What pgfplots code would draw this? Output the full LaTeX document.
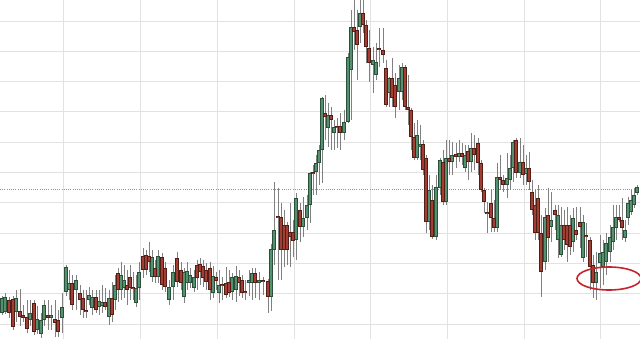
\documentclass[border=0pt]{standalone}
\usepackage{pgfplots}
\usepackage{pgfplotstable}
\pgfplotsset{compat=1.18}
\definecolor{gfill}{HTML}{55906F}
\definecolor{gline}{HTML}{2A4F3A}
\definecolor{rfill}{HTML}{A23E32}
\definecolor{rline}{HTML}{521D16}
\definecolor{wick}{HTML}{808080}
\definecolor{gridc}{HTML}{E2E2E2}
\definecolor{ell}{HTML}{C4242B}

\pgfplotstableread{
x top bot hi lo
2 298 313 296 315
5 297 312 293 314
16 298 312 290 322
30 313 320 300 326
37 319 330 306 334
41 320 334 313 338
44 305 320 300 326
51 315 318 305 330
62 307 318 293 333
66 267 292 265 296
69 283 290 270 300
76 280 290 275 310
89 295 300 287 305
92 297 308 290 315
99 301 307 290 315
102 302 306 285 313
109 298 317 290 325
115 285 300 275 310
121 275 290 262 300
124 280 288 265 298
136 288 303 275 307
139 272 288 262 300
152 257 277 250 282
158 256 277 250 283
169 287 300 280 305
173 272 287 265 300
184 272 297 268 303
187 271 283 262 290
190 275 283 268 288
194 277 288 270 292
213 276 293 266 298
219 285 293 270 303
232 277 292 273 300
236 276 290 266 302
249 280 283 270 296
252 273 283 268 300
259 280 283 272 300
271 249 297 244 311
274 230 250 182 265
296 198 240 193 260
303 218 227 197 237
307 205 218 195 230
310 173 205 172 223
316 163 172 155 195
319 150 163 145 185
322 98 150 97 183
328 115 128 103 147
334 127 133 120 150
344 122 133 110 140
348 57 122 53 123
351 27 70 10 120
360 13 27 0 43
373 60 65 47 93
376 62 75 43 80
389 78 93 77 107
399 78 92 65 110
402 67 92 63 100
417 135 158 120 160
420 144 147 125 160
429 190 222 175 230
436 187 237 175 240
440 160 188 158 195
446 158 202 140 205
452 155 162 142 175
459 153 157 140 162
465 155 168 145 172
471 148 162 133 172
497 177 228 163 232
507 178 185 153 198
510 168 180 155 190
513 142 168 140 182
520 162 173 138 178
526 168 174 155 185
545 217 262 208 270
551 220 227 192 242
558 215 240 205 258
561 225 255 207 257
573 218 242 208 252
583 222 258 215 262
596 272 283 252 300
600 253 263 235 288
603 252 267 240 285
606 243 262 233 275
610 237 252 225 262
613 227 242 205 250
616 217 228 205 240
625 230 238 220 242
628 203 218 197 225
631 200 212 190 215
634 195 205 188 208
637 187 193 185 195
}\up

\pgfplotstableread{
x top bot hi lo
9 300 313 297 318
13 299 327 296 330
20 311 317 289 326
23 315 318 305 322
27 317 329 300 333
34 303 332 300 335
48 315 318 300 330
55 319 323 300 337
58 320 332 310 337
72 283 305 275 310
80 293 300 285 315
83 298 310 290 318
86 310 312 290 318
96 297 310 290 313
105 302 307 288 310
112 298 315 282 322
118 273 290 268 302
127 285 290 270 305
130 277 288 265 300
133 287 289 272 300
143 256 270 248 278
146 255 270 250 275
149 256 262 242 272
155 268 277 260 283
162 257 285 253 290
165 268 287 262 292
177 258 282 252 287
181 270 283 262 290
197 265 278 260 290
200 264 272 258 285
203 266 278 260 287
206 270 282 263 290
210 268 290 262 300
216 277 281 272 290
222 284 286 277 300
226 283 295 267 298
229 282 293 270 297
239 277 283 270 296
242 280 293 275 298
245 291 293 280 300
255 273 283 268 298
263 280 282 277 295
268 281 297 279 313
278 216 218 188 280
281 217 250 203 280
284 225 250 210 267
287 225 250 222 265
290 232 237 203 267
293 232 241 220 257
300 210 227 203 242
313 172 174 165 195
325 113 117 95 140
331 115 120 107 150
337 126 128 118 148
340 126 133 113 150
354 27 32 0 50
357 30 45 10 80
363 13 25 0 33
366 25 47 20 63
369 48 63 30 82
379 48 50 28 67
383 50 55 28 63
386 68 105 60 107
392 78 98 58 107
395 85 107 73 118
405 67 107 65 110
408 107 110 75 125
411 110 137 108 150
414 137 158 123 160
423 144 170 140 175
426 158 222 155 233
432 200 237 185 239
443 162 202 150 205
449 158 162 140 175
456 154 157 143 168
462 153 157 143 165
468 151 162 145 180
474 148 155 135 170
478 143 163 138 175
481 163 190 160 192
484 190 202 188 213
487 212 214 202 233
491 203 218 190 232
494 218 228 200 232
500 177 180 155 190
503 180 185 175 192
516 140 173 138 178
523 162 175 145 185
529 168 182 152 190
532 192 210 180 215
535 205 233 190 240
538 198 233 185 240
541 233 272 215 297
548 215 238 188 262
555 210 215 205 230
564 225 240 210 250
567 225 245 207 262
570 225 247 215 255
576 230 235 207 240
580 222 227 207 248
586 235 237 223 257
590 240 267 237 290
593 265 283 255 298
619 217 220 205 222
622 220 228 198 240
}\down

\begin{document}
\begin{tikzpicture}
\begin{axis}[
  width=640pt, height=339pt, scale only axis,
  xmin=0, xmax=640, ymin=0, ymax=339, y dir=reverse,
  axis line style={draw=none},
  xtick={63,140,217,294,370,447,524,600},
  ytick={21,51,81,111,142,172,202,233,263,293,324},
  xticklabels={}, yticklabels={},
  major tick length=0pt,
  grid=major, grid style={gridc, line width=0.9pt},
]
\coordinate (sw) at (rel axis cs:0,0);
\coordinate (ne) at (rel axis cs:1,1);
\addplot[color=gray!85, line width=0.8pt, dash pattern=on 0.8pt off 1.4pt, forget plot] coordinates {(0,189) (640,189)};
% wicks
\addplot[forget plot, draw=none, mark=none, error bars/.cd, y dir=plus, y explicit, error mark=none, error bar style={draw=wick, line width=1pt}] table[x=x, y=hi, y error expr=\thisrow{lo}-\thisrow{hi}] {\up};
\addplot[forget plot, draw=none, mark=none, error bars/.cd, y dir=plus, y explicit, error mark=none, error bar style={draw=wick, line width=1pt}] table[x=x, y=hi, y error expr=\thisrow{lo}-\thisrow{hi}] {\down};
% bodies outline
\addplot[forget plot, draw=none, mark=none, error bars/.cd, y dir=plus, y explicit, error mark=none, error bar style={draw=gline, line width=3.4pt}] table[x=x, y=top, y error expr={max(\thisrow{bot}-\thisrow{top},1.5)}] {\up};
\addplot[forget plot, draw=none, mark=none, error bars/.cd, y dir=plus, y explicit, error mark=none, error bar style={draw=rline, line width=3.4pt}] table[x=x, y=top, y error expr={max(\thisrow{bot}-\thisrow{top},1.5)}] {\down};
% bodies fill
\addplot[forget plot, draw=none, mark=none, error bars/.cd, y dir=plus, y explicit, error mark=none, error bar style={draw=gfill, line width=1.8pt}] table[x=x, y expr=\thisrow{top}+0.8, y error expr={max(\thisrow{bot}-\thisrow{top}-1.6,0)}] {\up};
\addplot[forget plot, draw=none, mark=none, error bars/.cd, y dir=plus, y explicit, error mark=none, error bar style={draw=rfill, line width=1.8pt}] table[x=x, y expr=\thisrow{top}+0.8, y error expr={max(\thisrow{bot}-\thisrow{top}-1.6,0)}] {\down};
\draw[ell, line width=1.6pt] (axis cs:609,278.5) ellipse [x radius=32, y radius=11.5];
\end{axis}
\pgfresetboundingbox
\path (sw) rectangle (ne);
\end{tikzpicture}
\end{document}
